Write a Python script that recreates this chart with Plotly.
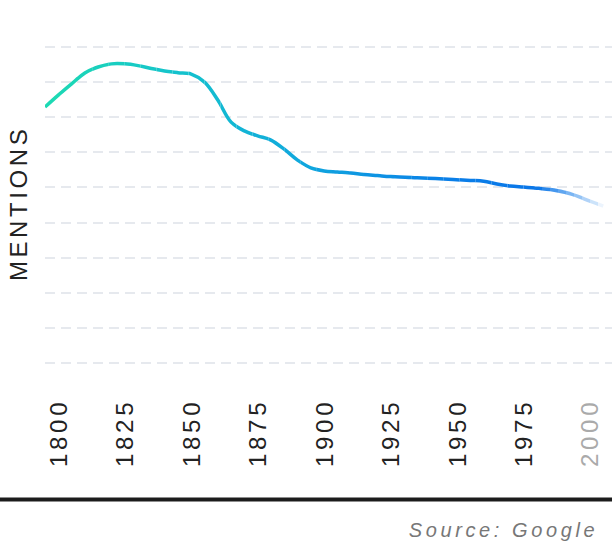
import plotly.graph_objects as go

# ---- data ----
years = [1800, 1805, 1810, 1815, 1820, 1825, 1830, 1835, 1840, 1845,
         1850, 1855, 1860, 1865, 1870, 1875, 1880, 1885, 1890, 1895,
         1900, 1905, 1910, 1915, 1920, 1925, 1930, 1940, 1950, 1960,
         1965, 1970, 1975, 1980, 1985, 1990, 1995, 2000, 2005, 2010]
mentions = [8.29, 8.63, 8.95, 9.26, 9.43, 9.52, 9.52, 9.47, 9.39, 9.32,
            9.27, 9.23, 9.00, 8.49, 7.86, 7.61, 7.47, 7.35, 7.09, 6.78,
            6.56, 6.47, 6.44, 6.41, 6.37, 6.34, 6.31, 6.28, 6.24, 6.20,
            6.18, 6.10, 6.04, 6.01, 5.98, 5.94, 5.87, 5.76, 5.61, 5.47]
tick_years = [1800, 1825, 1850, 1875, 1900, 1925, 1950, 1975, 2000]
tick_labels = ["1800", "1825", "1850", "1875", "1900", "1925", "1950", "1975",
               "<span style='color:#aaaaaa'>2000</span>"]
grid_values = [1, 2, 3, 4, 5, 6, 7, 8, 9, 10]
y_title = "MENTIONS"
source_text = "Source: Google"

X_MIN, X_MAX = 1800, 2013.3
Y_RANGE = [0.516, 10.2]

# colour stops of the line gradient (year, r, g, b, alpha)
stops = [(1800, 30, 218, 178, 1.0),
         (1850, 20, 195, 205, 1.0),
         (1900, 16, 165, 222, 1.0),
         (1950, 10, 128, 232, 1.0),
         (1985, 10, 118, 232, 1.0),
         (2010, 10, 118, 232, 0.08)]


def colour_at(yr):
    yr = min(max(yr, stops[0][0]), stops[-1][0])
    for (y0, r0, g0, b0, a0), (y1, r1, g1, b1, a1) in zip(stops[:-1], stops[1:]):
        if y0 <= yr <= y1:
            t = (yr - y0) / (y1 - y0)
            r = r0 + (r1 - r0) * t
            g = g0 + (g1 - g0) * t
            b = b0 + (b1 - b0) * t
            a = a0 + (a1 - a0) * t
            return f"rgba({r:.0f},{g:.0f},{b:.0f},{a:.3f})"
    return "rgba(10,118,232,1)"


# the gradient is made by drawing the same smooth line in several colours,
# each copy clipped to its own narrow strip (its own hidden x axis)
edges = [1800 + 6 * k for k in range(31)] + [1984, 1987, 1990, 1993, 1996,
                                             1999, 2002, 2005, 2008, X_MAX]
edges = sorted(set(edges))

FONT = "Liberation Sans, Arial, Helvetica, sans-serif"

fig = go.Figure()
# invisible carrier for the main axes (ticks and grid)
fig.add_trace(go.Scatter(x=years, y=mentions, mode="lines",
                         line=dict(color="rgba(0,0,0,0)", width=1),
                         hoverinfo="skip", showlegend=False))

layout_axes = {}
span = X_MAX - X_MIN
for k, (a, b) in enumerate(zip(edges[:-1], edges[1:])):
    ax_id = k + 2
    fig.add_trace(go.Scatter(
        x=years, y=mentions, mode="lines", xaxis=f"x{ax_id}", yaxis="y2",
        line=dict(color=colour_at((a + b) / 2), width=3.5, shape="spline",
                  smoothing=1.0),
        hoverinfo="skip", showlegend=False))
    layout_axes[f"xaxis{ax_id}"] = dict(
        domain=[(a - X_MIN) / span, (b - X_MIN) / span], range=[a, b],
        anchor="y2", visible=False, showgrid=False, zeroline=False,
        fixedrange=True)

fig.update_layout(
    width=612, height=544,
    margin=dict(l=45, r=0, t=40, b=164),
    paper_bgcolor="white", plot_bgcolor="rgba(0,0,0,0)",
    xaxis=dict(range=[X_MIN, X_MAX], tickvals=tick_years, ticktext=tick_labels,
               tickangle=-90, showgrid=False, zeroline=False, showline=False,
               ticks="", ticklabelshift=14, ticklabelstandoff=13,
               tickfont=dict(family=FONT, size=24, color="#222222")),
    yaxis=dict(range=Y_RANGE, tickvals=grid_values, showticklabels=False,
               showgrid=True, gridcolor="#e6e9ee", gridwidth=2,
               griddash="10px,6px", zeroline=False, showline=False, ticks=""),
    yaxis2=dict(range=Y_RANGE, overlaying="y", anchor="x", visible=False,
                showgrid=False, zeroline=False, fixedrange=True),
    annotations=[
        dict(text=y_title, xref="paper", yref="paper",
             x=(17.7 - 45) / 567, y=(380 - 203) / 340,
             xanchor="center", yanchor="middle", textangle=-90, showarrow=False,
             font=dict(family=FONT, size=24, color="#222222")),
        dict(text=source_text, xref="paper", yref="paper",
             x=(503.5 - 45) / 567, y=(380 - 530) / 340,
             xanchor="center", yanchor="middle", showarrow=False,
             font=dict(family=FONT, size=20, color="#777777", style="italic")),
    ],
    shapes=[dict(type="line", xref="paper", yref="paper",
                 x0=-45 / 567, x1=1, y0=(380 - 499.5) / 340, y1=(380 - 499.5) / 340,
                 line=dict(color="#1c1c1c", width=4))],
    **layout_axes,
)

post = """
document.body.style.margin = '0';
document.body.style.padding = '0';
var gd = document.getElementById('{plot_id}');
gd.querySelectorAll('.xtick text').forEach(function(t){
  t.style.letterSpacing = '3.7px';
});
gd.querySelectorAll('.annotation-text').forEach(function(t){
  t.style.letterSpacing = '3.6px';
});
"""
fig.write_html("out.html", post_script=post, config={"displayModeBar": False})
